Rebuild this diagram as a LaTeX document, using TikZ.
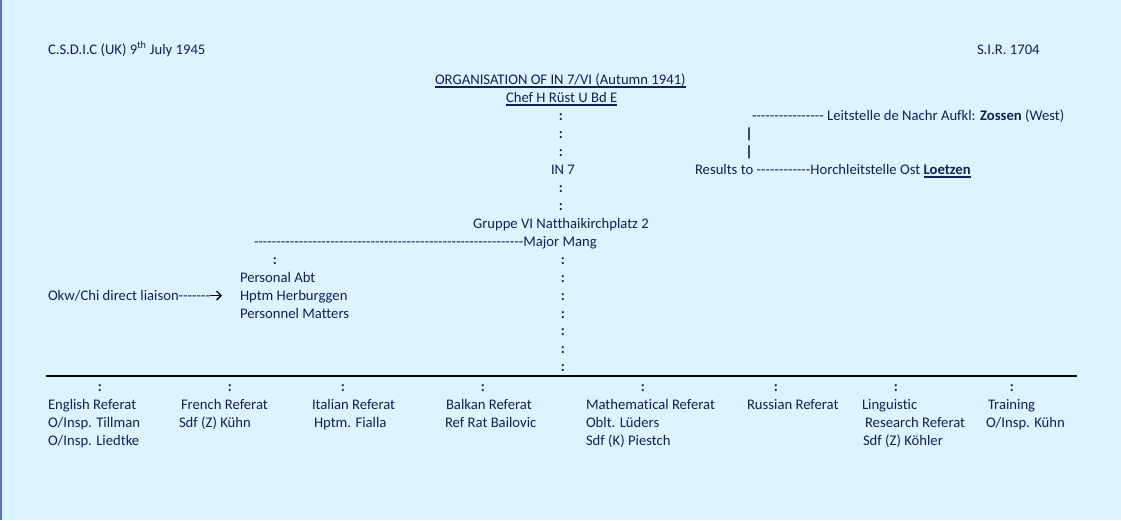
\documentclass[tikz,border=0pt]{standalone}
\usepackage{fontspec}
\setmainfont{Carlito}[Ligatures={TeXOff,NoCommon}]
\usetikzlibrary{arrows.meta}
\definecolor{bgColor}{RGB}{220,244,254}
\definecolor{inkColor}{RGB}{22,30,86}
\definecolor{edgeColor}{RGB}{96,112,192}
\tikzset{
  txt/.style={anchor=base west,inner sep=0pt,outer sep=0pt,text=inkColor,font=\fontsize{14.67}{17.6}\selectfont},
  colon/.style={txt,anchor=base,font=\fontsize{14.67}{17.6}\selectfont\bfseries},
  uline/.style={draw=inkColor,line width=1.2pt},
  liaisonarrow/.style={draw=black!85!inkColor,line width=1.4pt,-{Straight Barb[length=4.5pt,width=9pt]}},
  hrule/.style={draw=black,line width=1.4pt}
}

\begin{document}
\begin{tikzpicture}[x=1pt,y=-1pt]
\path[use as bounding box,fill=bgColor] (0,0) rectangle (1121,520);
\draw[edgeColor,line width=2pt] (1,0) -- (1,520);

% header
\node[txt] (csdic) at (48,54) {C.S.D.I.C (UK) 9\textsuperscript{th} July 1945};
\node[txt] (sir) at (977,54) {S.I.R. 1704};

% title
\node[txt] (org) at (435,84) {ORGANISATION OF IN 7/VI (Autumn 1941)};
\node[txt] (chef) at (506,102) {Chef H Rüst U Bd E};
\draw[uline] ([yshift=-3pt]org.base west) -- ([yshift=-3pt]org.base east);
\draw[uline] ([yshift=-3pt]chef.base west) -- ([yshift=-3pt]chef.base east);

\foreach \y [count=\i] in {120,138,156}
  \node[colon] (top\i) at (561,\y) {:};
\node[txt] (in7) at (551,174) {IN 7};
\foreach \y [count=\i] in {192,210}
  \node[colon] (mid\i) at (561,\y) {:};
\node[txt] (gruppe) at (473,228) {Gruppe VI Natthaikirchplatz 2};
\node[txt] (mang) at (254,246) {------------------------------------------------------------Major Mang};

% right side
\node[txt] (zossen) at (752,120) {---------------- Leitstelle de Nachr Aufkl: \textbf{Zossen} (West)};
\node[colon,text=black!80!inkColor] (bar1) at (749,138) {|};
\node[colon,text=black!80!inkColor] (bar2) at (749,156) {|};
\node[txt] (results) at (695,174) {Results to ------------Horchleitstelle Ost};
\node[txt] (loetzen) at ([xshift=3.3pt]results.base east) {\textbf{Loetzen}};
\draw[uline] ([yshift=-3pt]loetzen.base west) -- ([yshift=-3pt]loetzen.base east);

% personal abt
\node[colon] (pcol) at (275,264) {:};
\node[txt] (pabt) at (240,282) {Personal Abt};
\node[txt] (herb) at (240,300) {Hptm Herburggen};
\node[txt] (pmat) at (240,318) {Personnel Matters};
\node[txt] (okw) at (48,300) {Okw/Chi direct liaison-------};
\coordinate (okwtip) at (222,295.5);
\draw[liaisonarrow] (okw.east |- okwtip) -- (okwtip);

\foreach \y [count=\i] in {264,282,300,318,335,353,371}
  \node[colon] (low\i) at (563,\y) {:};

% referate
\coordinate (ruleL) at (46,376);
\coordinate (ruleR) at (1077,376);
\draw[hrule] (ruleL) -- (ruleR);
\foreach \x [count=\i] in {100,230,343,483,643,776,896,1012}
  \node[colon] (bc\i) at (\x,391) {:};

\node[txt] (eng) at (48,409) {English Referat};
\node[txt] (eng1) at (48,427) {O/Insp. Tillman};
\node[txt] (eng2) at (48,445) {O/Insp. Liedtke};
\node[txt] (fre) at (181,409) {French Referat};
\node[txt] (fre1) at (179,427) {Sdf (Z) Kühn};
\node[txt] (ita) at (312,409) {Italian Referat};
\node[txt] (ita1) at (314,427) {Hptm. Fialla};
\node[txt] (bal) at (446,409) {Balkan Referat};
\node[txt] (bal1) at (445,427) {Ref Rat Bailovic};
\node[txt] (mat) at (586,409) {Mathematical Referat};
\node[txt] (mat1) at (586,427) {Oblt. Lüders};
\node[txt] (mat2) at (586,445) {Sdf (K) Piestch};
\node[txt] (rus) at (747,409) {Russian Referat};
\node[txt] (lin) at (862,409) {Linguistic};
\node[txt] (lin1) at (865,427) {Research Referat};
\node[txt] (lin2) at (863,445) {Sdf (Z) Köhler};
\node[txt] (tra) at (988,409) {Training};
\node[txt] (tra1) at (986,427) {O/Insp. Kühn};
\end{tikzpicture}
\end{document}
